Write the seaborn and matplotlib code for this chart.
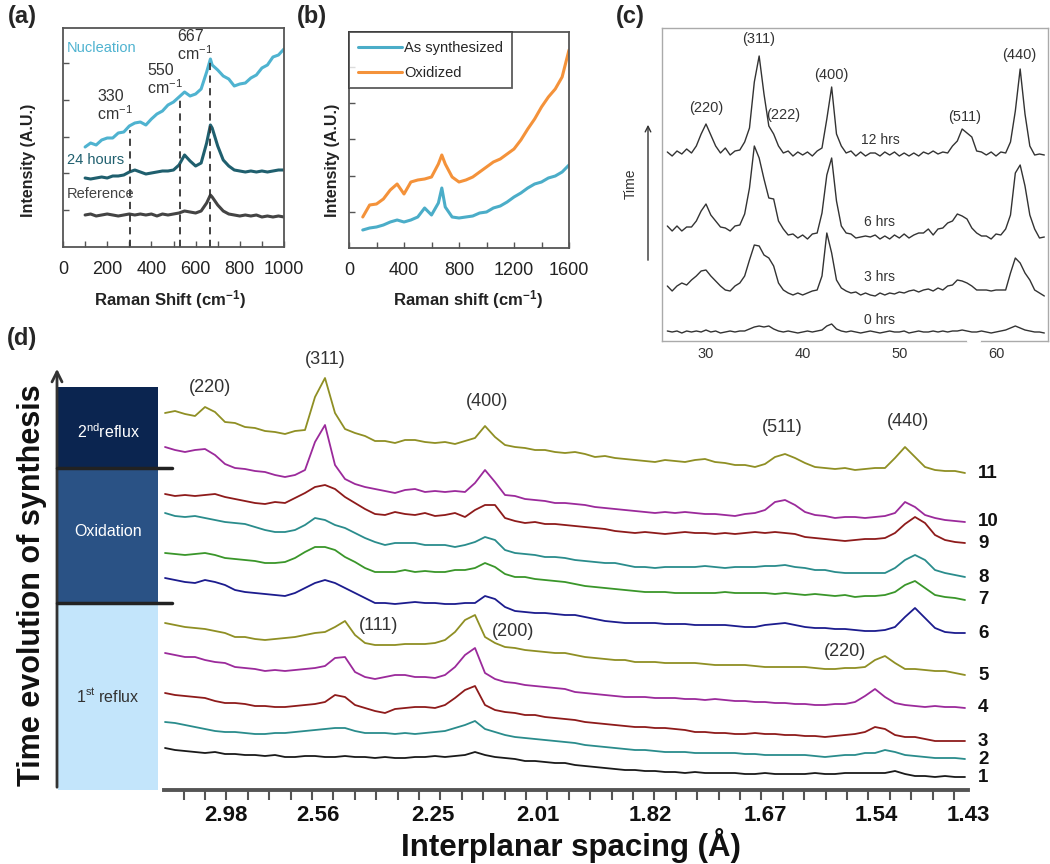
import numpy as np
import matplotlib
matplotlib.use('Agg')
import matplotlib.pyplot as plt
import seaborn as sns
from matplotlib.patches import Rectangle, FancyArrowPatch
from matplotlib.lines import Line2D

sns.set_theme(style='white')
plt.rcParams['font.family'] = ['Liberation Sans', 'DejaVu Sans']
plt.rcParams['mathtext.fontset'] = 'custom'
plt.rcParams['mathtext.rm'] = 'Liberation Sans'
plt.rcParams['mathtext.bf'] = 'Liberation Sans:bold'
plt.rcParams['mathtext.it'] = 'Liberation Sans:italic'

# (a) Raman spectra during nucleation
raman_a = [100, 125, 150, 175, 200, 225, 250, 275, 300, 325, 350, 375, 400, 425, 450,
           475, 500, 525, 550, 575, 600, 625, 650, 667, 675, 700, 725, 750, 775, 800,
           825, 850, 875, 900, 925, 950, 975, 1000]
a_reference = [0, 1, -1, 0, 1, 0, -1, 0, 1, 0, 1, 0, 1, -1, 1, 0, 1, 2, 4, 3,
               2, 4, 12, 20, 18, 10, 4, 1, 0, -1, 0, -1, 0, -2, -1, -2, -1, -2]
a_24h = [0, -1, 0, 1, 0, 2, 2, 3, 6, 8, 6, 4, 5, 6, 7, 7, 8, 13, 23, 17,
         12, 15, 35, 53, 50, 32, 18, 12, 8, 7, 6, 7, 6, 7, 6, 7, 8, 8]
a_nucleation = [0, 4, 2, 7, 9, 9, 14, 15, 21, 24, 25, 22, 28, 33, 36, 42, 45, 50, 55, 51,
                53, 58, 75, 88, 82, 77, 71, 68, 61, 63, 64, 69, 72, 79, 82, 90, 92, 98]
a_names = ['Reference', '24 hours', 'Nucleation']
a_offsets = [32, 69, 100]
a_peak_pos = [305, 530, 667]
a_peak_labels = ['330', '550', '667']

# (b) Raman: as synthesized vs oxidized
raman_b = [100, 150, 200, 250, 300, 350, 400, 450, 500, 550, 600, 650, 675, 700, 750, 800,
           850, 900, 950, 1000, 1050, 1100, 1150, 1200, 1250, 1300, 1350, 1400, 1450, 1500,
           1550, 1600]
b_as_synth = [0, 2, 3, 5, 8, 10, 8, 10, 13, 22, 15, 27, 42, 23, 13, 12,
              13, 14, 17, 18, 22, 24, 28, 33, 37, 42, 46, 48, 52, 54, 58, 65]
b_oxidized = [0, 12, 13, 18, 27, 33, 23, 35, 37, 38, 40, 53, 62, 53, 40, 35,
              37, 40, 45, 50, 55, 58, 63, 68, 77, 88, 98, 110, 120, 128, 140, 167]
b_names = ['As synthesized', 'Oxidized']
b_offsets = [18, 31]

# (c) XRD patterns vs reaction time
two_theta_c = [26.0, 26.5, 27.0, 27.5, 28.0, 28.5, 29.0, 29.5, 30.0, 30.5,
               31.0, 31.5, 32.0, 32.5, 33.0, 33.5, 34.0, 34.5, 35.0, 35.5,
               36.0, 36.5, 37.0, 37.5, 38.0, 38.5, 39.0, 39.5, 40.0, 40.5,
               41.0, 41.5, 42.0, 42.5, 43.0, 43.5, 44.0, 44.5, 45.0, 45.5,
               46.0, 46.5, 47.0, 47.5, 48.0, 48.5, 49.0, 49.5, 50.0, 50.5,
               51.0, 51.5, 52.0, 52.5, 53.0, 53.5, 54.0, 54.5, 55.0, 55.5,
               56.0, 56.5, 57.0, 57.5, 58.0, 58.5, 59.0, 59.5, 60.0, 60.5,
               61.0, 61.5, 62.0, 62.5, 63.0, 63.5, 64.0, 64.5, 65.0]
c_0h = [1, 0, 1, -1, 1, 0, 1, 0, 2, 0, 1, -1, 0, 1, 0, 1, 1, 3, 5, 6,
        5, 6, 3, 1, 0, 1, 0, -1, 0, 1, 0, 1, 2, 6, 8, 3, 1, 0, 1, 0,
        -1, 0, 1, 0, -1, 0, 1, 0, 0, 1, -1, 0, 1, 0, 0, 1, 0, 1, 0, 1,
        1, 2, 1, 0, 0, 1, 0, -1, 0, 1, 2, 4, 6, 4, 2, 1, 0, 0, -1]
c_3h = [7, 2, 7, 10, 8, 13, 17, 22, 23, 17, 12, 7, 3, 2, 7, 10, 17, 33, 48, 47,
        38, 35, 27, 10, 3, 0, -2, 0, -2, 0, 2, 3, 17, 60, 40, 13, 5, 2, 0, 1,
        -2, 0, -2, -3, 0, -2, 0, -1, 1, 0, 2, 3, 1, 3, 4, 2, 5, 3, 7, 8,
        13, 12, 10, 7, 3, 3, 3, 2, 3, 3, 3, 20, 35, 30, 20, 13, 3, 0, -3]
c_6h = [11, 6, 11, 6, 10, 10, 16, 26, 33, 22, 16, 10, 9, 6, 11, 12, 23, 49, 91, 79,
        58, 39, 38, 16, 8, 2, 3, -1, 2, -2, 3, 4, 24, 62, 79, 36, 11, 4, 3, -1,
        0, 1, 0, 2, -2, 1, -2, 2, -1, 3, -1, 2, 4, 4, 8, 2, 8, 9, 14, 16,
        23, 21, 18, 9, 4, 1, 1, -2, 3, 2, 8, 22, 64, 72, 51, 22, 8, -1, 0]
c_12h = [2, -2, 3, 0, 5, 1, 8, 20, 30, 19, 8, 1, 6, -1, 3, 4, 12, 26, 72, 98,
         60, 28, 20, 8, 1, 3, -2, 2, -1, 2, -2, 3, 6, 35, 67, 20, 8, 1, 3, -2,
         2, -2, 1, 1, -2, 2, -1, 2, -2, 1, -2, 1, -2, 2, 0, 3, 0, 2, 1, 8,
         13, 25, 21, 17, 3, 2, -1, 2, -2, 2, 1, 12, 43, 85, 40, 8, -1, 0, -1]
c_names = ['0 hrs', '3 hrs', '6 hrs', '12 hrs']
c_offsets = [9, 48, 104, 187]
c_peak_labels = ['(220)', '(311)', '(222)', '(400)', '(511)', '(440)']
c_peak_pos = [30.0, 35.4, 38.0, 43.0, 56.8, 62.4]

# (d) XRD time evolution, scans 1..11
two_theta_d = [27.0, 27.5, 28.0, 28.5, 29.0, 29.5, 30.0, 30.5, 31.0, 31.5,
               32.0, 32.5, 33.0, 33.5, 34.0, 34.5, 35.0, 35.5, 36.0, 36.5,
               37.0, 37.5, 38.0, 38.5, 39.0, 39.5, 40.0, 40.5, 41.0, 41.5,
               42.0, 42.5, 43.0, 43.5, 44.0, 44.5, 45.0, 45.5, 46.0, 46.5,
               47.0, 47.5, 48.0, 48.5, 49.0, 49.5, 50.0, 50.5, 51.0, 51.5,
               52.0, 52.5, 53.0, 53.5, 54.0, 54.5, 55.0, 55.5, 56.0, 56.5,
               57.0, 57.5, 58.0, 58.5, 59.0, 59.5, 60.0, 60.5, 61.0, 61.5,
               62.0, 62.5, 63.0, 63.5, 64.0, 64.5, 65.0, 65.5, 66.0, 66.5, 67.0]
d1 = [29, 27, 26, 25, 24, 25, 23, 23, 22, 22, 21, 22, 20, 20, 21, 21, 20, 20, 21, 20,
      20, 19, 20, 19, 19, 20, 20, 21, 20, 21, 22, 25, 22, 20, 19, 18, 16, 16, 15, 14,
      14, 12, 11, 10, 9, 8, 7, 7, 6, 6, 5, 5, 4, 5, 4, 4, 4, 4, 3, 3,
      4, 3, 3, 3, 3, 4, 3, 3, 4, 4, 4, 4, 4, 6, 3, 1, 1, 0, 1, 0, 0]
d2 = [37, 36, 34, 32, 30, 28, 27, 27, 26, 25, 25, 26, 26, 27, 28, 29, 30, 31, 31, 28,
      26, 26, 26, 25, 26, 25, 26, 27, 28, 31, 34, 38, 30, 27, 24, 22, 21, 20, 19, 18,
      17, 16, 14, 13, 12, 11, 10, 9, 9, 8, 7, 7, 7, 6, 6, 6, 6, 6, 5, 5,
      4, 4, 4, 4, 4, 3, 2, 3, 4, 4, 6, 6, 9, 7, 4, 3, 2, 1, 1, 1, 0]
d3 = [48, 46, 45, 44, 43, 40, 38, 38, 37, 35, 35, 34, 34, 35, 36, 37, 39, 46, 44, 36,
      33, 30, 28, 32, 33, 34, 34, 33, 36, 43, 51, 55, 36, 31, 29, 28, 26, 26, 24, 23,
      22, 21, 19, 18, 17, 16, 15, 14, 14, 13, 13, 12, 11, 9, 9, 8, 8, 7, 7, 8,
      7, 7, 6, 6, 5, 5, 4, 5, 6, 7, 9, 14, 12, 6, 4, 4, 2, 0, 0, 0, 0]
d4 = [55, 53, 51, 51, 48, 46, 45, 41, 40, 39, 37, 38, 37, 38, 39, 40, 42, 50, 51, 36,
      31, 29, 31, 33, 33, 31, 31, 30, 33, 41, 53, 60, 35, 29, 26, 25, 23, 22, 21, 20,
      19, 16, 15, 14, 13, 12, 11, 11, 11, 10, 10, 10, 9, 9, 8, 9, 8, 7, 7, 6,
      6, 5, 5, 4, 4, 3, 3, 4, 4, 6, 12, 19, 11, 5, 3, 2, 1, 2, 1, 1, 0]
d5 = [52, 50, 48, 47, 46, 44, 42, 38, 38, 36, 35, 36, 37, 38, 40, 42, 43, 48, 54, 40,
      32, 30, 30, 30, 31, 31, 31, 32, 35, 43, 55, 60, 38, 32, 28, 27, 25, 24, 23, 22,
      22, 20, 18, 17, 16, 15, 15, 13, 13, 13, 12, 12, 12, 12, 11, 10, 10, 10, 10, 9,
      8, 8, 8, 8, 8, 7, 6, 6, 7, 7, 8, 15, 19, 12, 6, 6, 5, 4, 4, 2, 0]
d6 = [55, 53, 51, 50, 53, 51, 48, 43, 41, 40, 39, 38, 37, 40, 45, 50, 53, 50, 45, 40,
      35, 30, 30, 29, 30, 31, 30, 30, 29, 29, 30, 30, 37, 34, 26, 22, 21, 20, 20, 19,
      18, 18, 16, 14, 12, 11, 10, 10, 10, 10, 9, 9, 9, 8, 8, 8, 8, 7, 6, 6,
      8, 9, 10, 8, 6, 5, 5, 4, 4, 3, 2, 2, 3, 6, 16, 25, 15, 5, 1, 0, 0]
d7 = [47, 46, 45, 46, 47, 45, 42, 41, 40, 39, 37, 37, 38, 42, 48, 53, 53, 50, 43, 38,
      32, 28, 28, 28, 30, 28, 29, 28, 28, 30, 30, 32, 37, 33, 26, 23, 23, 21, 20, 19,
      18, 16, 14, 13, 12, 11, 10, 9, 8, 8, 8, 7, 7, 7, 7, 7, 8, 7, 7, 7,
      7, 6, 7, 6, 5, 6, 5, 4, 5, 3, 4, 4, 5, 8, 15, 19, 12, 5, 3, 2, 0]
d8 = [64, 61, 60, 61, 59, 57, 55, 54, 53, 50, 47, 45, 45, 47, 52, 59, 57, 52, 49, 44,
      39, 35, 32, 34, 34, 34, 32, 32, 32, 30, 32, 35, 40, 37, 27, 24, 23, 22, 20, 20,
      19, 17, 16, 15, 14, 14, 12, 10, 10, 9, 10, 10, 10, 10, 11, 10, 9, 10, 10, 10,
      11, 11, 12, 10, 9, 7, 7, 5, 4, 4, 4, 4, 4, 9, 17, 22, 17, 7, 4, 2, 0]
d9 = [49, 47, 48, 47, 48, 49, 46, 44, 42, 40, 39, 41, 40, 45, 50, 56, 58, 54, 46, 40,
      34, 29, 28, 31, 29, 28, 30, 27, 28, 30, 26, 33, 38, 38, 25, 22, 20, 21, 19, 19,
      18, 17, 16, 15, 14, 12, 11, 10, 11, 10, 9, 10, 11, 10, 10, 9, 10, 9, 10, 11,
      10, 11, 10, 9, 6, 5, 4, 3, 2, 3, 4, 4, 5, 10, 19, 26, 20, 8, 3, 1, 0]
d10 = [75, 72, 70, 72, 73, 67, 58, 54, 53, 51, 50, 47, 45, 47, 52, 80, 97, 57, 43, 38,
       35, 33, 31, 29, 32, 33, 30, 31, 30, 31, 30, 39, 52, 40, 27, 26, 23, 22, 21, 19,
       19, 18, 17, 15, 14, 13, 12, 11, 10, 9, 10, 9, 10, 9, 8, 8, 7, 6, 8, 9,
       12, 20, 22, 17, 10, 7, 6, 4, 5, 5, 4, 5, 6, 9, 20, 15, 7, 4, 2, 1, 0]
d11 = [60, 62, 59, 57, 66, 61, 51, 50, 46, 45, 42, 41, 39, 42, 43, 76, 95, 60, 44, 40,
       37, 32, 32, 30, 33, 33, 31, 30, 31, 29, 32, 35, 47, 36, 28, 26, 25, 23, 23, 21,
       20, 21, 19, 16, 17, 15, 14, 13, 12, 11, 13, 12, 11, 13, 14, 11, 10, 8, 8, 6,
       9, 16, 19, 15, 10, 6, 5, 4, 5, 3, 4, 5, 5, 15, 26, 16, 6, 3, 2, 2, 0]
d_scans = [d1, d2, d3, d4, d5, d6, d7, d8, d9, d10, d11]
d_names = ['1', '2', '3', '4', '5', '6', '7', '8', '9', '10', '11']
d_offsets = [13, 31, 49, 82, 115, 157, 190, 213, 247, 268, 317]
d_colors = ['#1a1a1a', '#2a8c8c', '#8e1b1b', '#9b2a9b', '#8f8f24', '#1c1c8e',
            '#3a962a', '#2a8c8c', '#8e1b1b', '#9b2a9b', '#8f8f24']
d_tick_pos = [30.05, 34.65, 40.4, 45.65, 51.25, 57.0, 62.55, 67.15]
d_tick_labels = ['2.98', '2.56', '2.25', '2.01', '1.82', '1.67', '1.54', '1.43']
d_peak_labels = ['(220)', '(311)', '(400)', '(511)', '(440)', '(111)', '(200)', '(220)']
d_peak_pos = [29.25, 35.0, 43.1, 57.85, 64.15, 37.7, 44.4, 61.0]
d_stages = ['1$^{\\mathrm{st}}$ reflux', 'Oxidation', '2$^{\\mathrm{nd}}$reflux']

W, H = 1050, 864
fig = plt.figure(figsize=(W / 100, H / 100), dpi=100)


def add_ax(l, t, r, b):
    return fig.add_axes([l / W, 1 - b / H, (r - l) / W, (b - t) / H])


def ftext(px, py, s, **kw):
    return fig.text(px / W, 1 - py / H, s, **kw)


def frame(ax, color='#555555', lw=1.3):
    for sp in ax.spines.values():
        sp.set_visible(True)
        sp.set_color(color)
        sp.set_linewidth(lw)


# ---------- (a) ----------
ax = add_ax(63, 28, 284, 247)
a_colors = ['#444444', '#1f5f6e', '#4fb3d0']
for vals, off, col in zip([a_reference, a_24h, a_nucleation], a_offsets, a_colors):
    sns.lineplot(x=raman_a, y=np.array(vals) + off, color=col, linewidth=2.2, ax=ax)
ax.vlines(a_peak_pos, 0, [117, 150, 187], colors='#333333',
          linestyles=(0, (4, 3)), linewidth=1.3)
for xp, lab, yy in zip(a_peak_pos, a_peak_labels, [141, 167, 201]):
    ax.text(xp - 150, yy, lab + '\ncm$^{-1}$', fontsize=11.5, color='#333333',
            ha='left', va='center', linespacing=1.05)
for name, yy, col in zip(a_names, [53, 87, 199], a_colors):
    ax.text(18, yy, name, fontsize=10.5, color=col, ha='left', va='center')
ax.set_xlim(0, 1000)
ax.set_ylim(0, 219)
ax.set_xticks([0, 200, 400, 600, 800, 1000])
ax.set_xticks([100, 300, 500, 700, 900], minor=True)
ax.set_yticks([37, 74, 110, 147, 184])
ax.set_yticklabels([])
ax.tick_params(axis='both', which='both', direction='in', length=4, width=1,
               color='#555555', bottom=True, left=True, labelsize=13,
               labelcolor='#222222', pad=10)
ax.set_xlabel('')
ax.set_ylabel('')
frame(ax)
ftext(170, 300, 'Raman Shift (cm$^{\\mathbf{-1}}$)', fontsize=12, fontweight='bold',
      ha='center', va='center', color='#222222')
ftext(29, 160, 'Intensity (A.U.)', fontsize=11.5, fontweight='bold', rotation=90,
      ha='center', va='center', color='#222222')
ftext(22, 17, '(a)', fontsize=17, fontweight='bold', ha='center', va='center')

# ---------- (b) ----------
ax = add_ax(349, 32, 569, 248)
b_colors = ['#4badc8', '#f4923a']
for vals, off, col, name in zip([b_as_synth, b_oxidized], b_offsets, b_colors, b_names):
    sns.lineplot(x=raman_b, y=np.array(vals) + off, color=col, linewidth=2.2, ax=ax,
                 label=name)
ax.set_xlim(0, 1600)
ax.set_ylim(0, 216)
ax.set_xticks([0, 400, 800, 1200, 1600])
ax.set_xticks([200, 600, 1000, 1400], minor=True)
ax.set_yticks([36, 72, 109, 145, 181])
ax.set_yticklabels([])
ax.tick_params(axis='both', which='both', direction='in', length=4, width=1,
               color='#555555', bottom=True, left=True, labelsize=13,
               labelcolor='#222222', pad=10)
ax.set_xlabel('')
ax.set_ylabel('')
frame(ax)
leg = ax.legend(loc='upper left', borderaxespad=0, fontsize=10.5, frameon=True,
                fancybox=False, handlelength=3.0, handletextpad=0.2,
                labelspacing=0.75, borderpad=0.6)
leg.get_frame().set_edgecolor('#333333')
leg.get_frame().set_linewidth(1.3)
ftext(468, 300, 'Raman shift (cm$^{\\mathbf{-1}}$)', fontsize=12, fontweight='bold',
      ha='center', va='center', color='#222222')
ftext(333, 160, 'Intensity (A.U.)', fontsize=11.5, fontweight='bold', rotation=90,
      ha='center', va='center', color='#222222')
ftext(312, 17, '(b)', fontsize=17, fontweight='bold', ha='center', va='center')

# ---------- (c) ----------
ax = add_ax(662, 28, 1048, 341)
for vals, off in zip([c_0h, c_3h, c_6h, c_12h], c_offsets):
    sns.lineplot(x=two_theta_c, y=np.array(vals) + off, color='#333333',
                 linewidth=1.0, ax=ax)
ax.set_xlim(25.45, 65.38)
ax.set_ylim(0, 313)
ax.set_xticks([30, 40, 50, 60])
ax.set_yticks([])
ax.tick_params(axis='x', length=0, labelsize=10.5, labelcolor='#333333', pad=4)
ax.set_xlabel('')
ax.set_ylabel('')
frame(ax, '#aaaaaa', 1.0)
ax.plot([57.2, 58.2], [0, 0], color='white', lw=3, clip_on=False, zorder=5)
for lab, xp, yy in zip(c_peak_labels, c_peak_pos, [233, 302, 226, 266, 224, 286]):
    ax.text(xp, yy, lab, fontsize=10.5, color='#333333', ha='center', va='center')
for name, yy in zip(c_names, [21, 64, 119, 201]):
    ax.text(48.0, yy, name, fontsize=10, color='#333333', ha='center', va='center')
fig.add_artist(FancyArrowPatch((648 / W, 1 - 263 / H), (648 / W, 1 - 122 / H),
                               transform=fig.transFigure, arrowstyle='->',
                               mutation_scale=10, color='#333333', lw=1.0))
ftext(631, 184, 'Time', fontsize=10, rotation=90, ha='center', va='center',
      color='#333333')
ftext(630, 17, '(c)', fontsize=17, fontweight='bold', ha='center', va='center')

# ---------- (d) ----------
ax = add_ax(163.5, 340, 968, 790)
ax.patch.set_alpha(0)
for vals, off, col in zip(d_scans, d_offsets, d_colors):
    sns.lineplot(x=two_theta_d, y=np.array(vals) + off, color=col, linewidth=1.3, ax=ax)
ax.set_xlim(26.925, 67.15)
ax.set_ylim(0, 450)
for side in ['top', 'right', 'left']:
    ax.spines[side].set_visible(False)
ax.spines['bottom'].set_color('#555555')
ax.spines['bottom'].set_linewidth(2.8)
ax.set_yticks([])
ax.set_xticks(d_tick_pos)
ax.set_xticklabels(d_tick_labels)
ax.set_xticks(np.arange(27.93, 67.2, 1.07), minor=True)
ax.tick_params(axis='x', which='major', length=0, pad=11, labelsize=16,
               labelcolor='#111111')
for t in ax.get_xticklabels():
    t.set_fontweight('bold')
ax.tick_params(axis='x', which='minor', bottom=True, direction='out', length=7,
               width=1.5, color='#555555')
ax.set_xlabel('')
ax.set_ylabel('')
for lab, xp, yy in zip(d_peak_labels, d_peak_pos, [403, 431, 388, 362, 369, 165, 159, 138]):
    ax.text(xp, yy, lab, fontsize=13, color='#333333', ha='center', va='center')
for name, off in zip(d_names, d_offsets):
    ax.text(67.65, off, name, fontsize=13.5, fontweight='bold', color='#111111',
            ha='left', va='center', clip_on=False)

# stage boxes on the left
for (top, bot), col in zip([(603, 790), (468, 603), (387, 468)],
                           ['#c3e5fb', '#2a5285', '#0b2550']):
    fig.add_artist(Rectangle((58 / W, 1 - bot / H), 100 / W, (bot - top) / H,
                             transform=fig.transFigure, facecolor=col, edgecolor='none'))
for lab, yy, col in zip(d_stages, [696, 532, 432], ['#333333', 'white', 'white']):
    ftext(108, yy, lab, fontsize=11.5, color=col, ha='center', va='center')
for yy in [468, 603]:
    fig.add_artist(Line2D([57 / W, 172 / W], [1 - yy / H, 1 - yy / H],
                          transform=fig.transFigure, color='#222222', lw=2.5))
fig.add_artist(FancyArrowPatch((57 / W, 1 - 790 / H), (57 / W, 1 - 366 / H),
                               transform=fig.transFigure, arrowstyle='->',
                               mutation_scale=18, color='#333333', lw=2.0))
ftext(32, 585, 'Time evolution of synthesis', fontsize=22, fontweight='bold',
      rotation=90, ha='center', va='center', color='#111111')
ftext(571, 846, 'Interplanar spacing (Å)', fontsize=22.5, fontweight='bold',
      ha='center', va='center', color='#111111')
ftext(22, 338, '(d)', fontsize=17, fontweight='bold', ha='center', va='center')

fig.savefig('out.png', dpi=100)
